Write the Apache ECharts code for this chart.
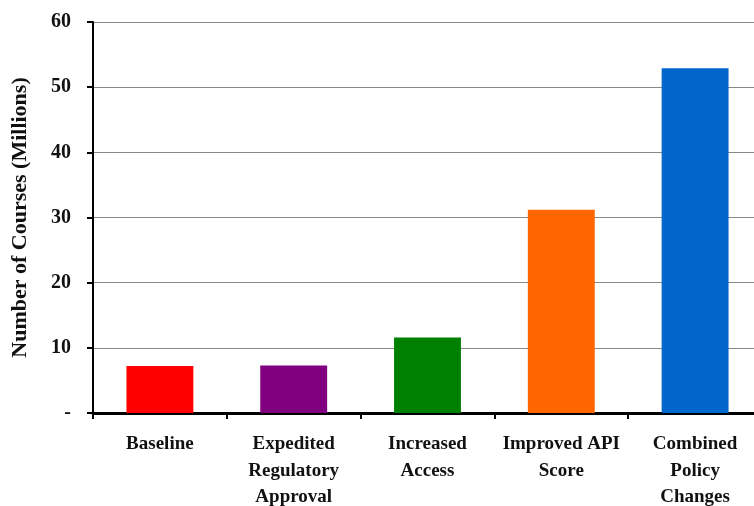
<!DOCTYPE html>
<html>
<head>
<meta charset="utf-8">
<script src="https://cdn.jsdelivr.net/npm/echarts@6/dist/echarts.min.js"></script>
<style>html,body{margin:0;padding:0;background:#fff;}#c{width:754px;height:506px;}</style>
</head>
<body>
<div id="c"></div>
<script>
const categories = ["Baseline", "Expedited\nRegulatory\nApproval", "Increased\nAccess", "Improved API\nScore", "Combined\nPolicy\nChanges"];
const values = [7.2, 7.3, 11.6, 31.2, 52.9];
const barColors = ["#ff0000", "#800080", "#008000", "#ff6600", "#0066cc"];
const yTicks = [0, 10, 20, 30, 40, 50, 60];
const yAxisTitle = "Number of Courses (Millions)";

const FONT = "'Liberation Serif', 'DejaVu Serif', serif";
const chart = echarts.init(document.getElementById('c'), null, {renderer: 'canvas'});
chart.setOption({
  animation: false,
  backgroundColor: '#fff',
  grid: {left: 93, top: 22, right: -8, bottom: 93, containLabel: false, outerBoundsMode: 'none'},
  xAxis: {
    type: 'category',
    data: categories,
    axisLine: {lineStyle: {color: '#000', width: 3}},
    axisTick: {show: true, length: 6, lineStyle: {color: '#000', width: 2}, alignWithLabel: false},
    axisLabel: {fontFamily: FONT, fontWeight: 'bold', fontSize: 19, color: '#111', margin: 18, lineHeight: 26.5, interval: 0}
  },
  yAxis: {
    type: 'value',
    min: 0, max: 60, interval: 10,
    name: yAxisTitle,
    nameLocation: 'middle',
    nameGap: 62,
    nameTextStyle: {fontFamily: FONT, fontWeight: 'bold', fontSize: 22, color: '#111'},
    axisLine: {show: true, lineStyle: {color: '#000', width: 2}},
    axisTick: {show: true, length: 6, lineStyle: {color: '#000', width: 2}},
    axisLabel: {fontFamily: FONT, fontWeight: 'bold', fontSize: 20, color: '#111', margin: 22,
      formatter: v => (yTicks.includes(v) && v === 0) ? '-' : String(v)},
    splitLine: {show: true, lineStyle: {color: '#888', width: 1}}
  },
  series: [{
    type: 'bar',
    data: values.map((v, i) => ({value: v, itemStyle: {color: barColors[i]}})),
    barWidth: '50%'
  }]
});
</script>
</body>
</html>
